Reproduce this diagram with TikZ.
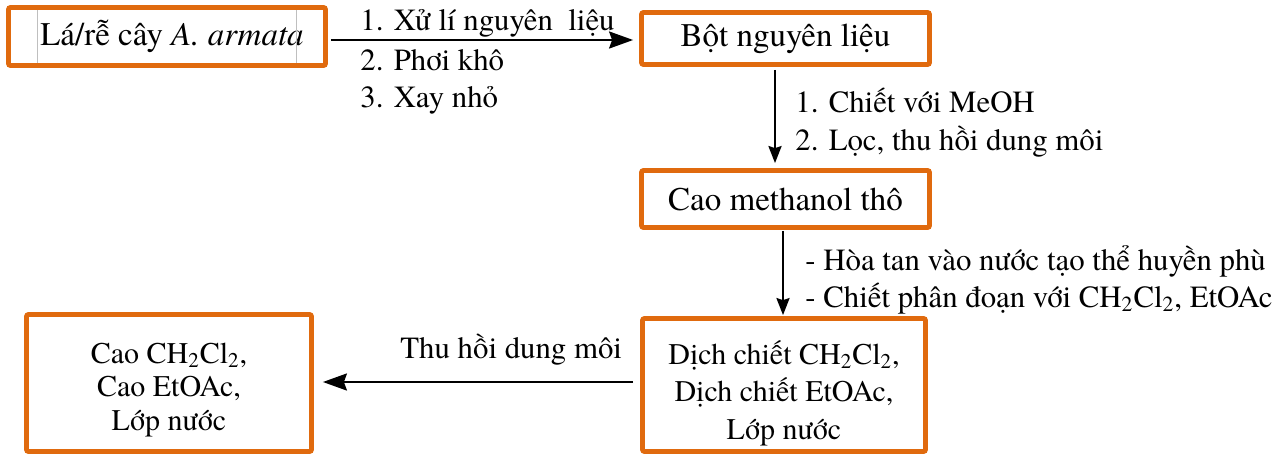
\documentclass[tikz,border=0pt]{standalone}
\usepackage{fontspec}
\setmainfont{TeX Gyre Termes}
\usetikzlibrary{arrows.meta}
\definecolor{boxorange}{RGB}{224,106,14}
\begin{document}
\begin{tikzpicture}[x=0.5pt,y=-0.5pt,
  box/.style={draw=boxorange,line width=2.4pt,rounded corners=1pt,fill=white,inner sep=0pt,align=center,font=\fontsize{16.5}{18.75}\selectfont},
  boxtext/.style={inner sep=0pt,align=center},
  lbl/.style={inner sep=0pt,font=\fontsize{15.4}{18}\selectfont},
  harr/.style={line width=1.2pt,-{Stealth[length=12pt,width=8.5pt,inset=1.5pt]}},
  varr/.style={line width=1.2pt,-{Stealth[length=8.5pt,width=6.5pt,inset=1pt]}}]
\useasboundingbox (0,0) rectangle (1284,455);
% boxes
\node[box,minimum width=158.5pt,minimum height=29pt] (b1) at (167,36.5) {\hspace{5pt}Lá/rễ cây \textit{A. armata}};
\node[box,minimum width=144pt,minimum height=26pt] (b2) at (785.5,38.5) {Bột nguyên liệu};
\node[box,minimum width=144pt,minimum height=28.5pt] (b3) at (785.5,199) {Cao methanol thô};
\node[box,minimum width=141.5pt,minimum height=66.5pt] (b4) at (784,385) {};
\node[box,minimum width=142.5pt,minimum height=68.5pt] (b5) at (169,383) {};
\node[boxtext,font=\fontsize{15}{18.75}\selectfont,yshift=-4pt] (t4) at (b4.center) {Dịch chiết CH\textsubscript{2}Cl\textsubscript{2},\\Dịch chiết EtOAc,\\Lớp nước};
\node[boxtext,font=\fontsize{15}{16.75}\selectfont,yshift=-3.5pt] (t5) at (b5.center) {Cao CH\textsubscript{2}Cl\textsubscript{2},\\Cao EtOAc,\\Lớp nước};
% faint text-frame lines in first box
\draw[black!25,line width=0.4pt] (37,10) -- (37,63) (296,10) -- (296,63);
% arrows
\draw[harr,shorten <=1.5pt,shorten >=3pt] (b1.east |- 0,40) -- (b2.west |- 0,40);
\draw[varr,shorten <=1.5pt,shorten >=2.5pt] (b2.south -| 775,0) -- (b3.north -| 775,0);
\draw[varr,shorten <=0.5pt,shorten >=0.5pt] (b3.south -| 783,0) -- (b4.north -| 783,0);
\draw[harr,shorten <=3.5pt,shorten >=4.5pt] (b4.west |- 0,382) -- (b5.east |- 0,382);
% labels
\node[lbl,anchor=base west] (l1a) at (360,31) {1. Xử lí nguyên\ \ liệu};
\node[lbl,anchor=base west] (l1b) at (360,70) {2. Phơi khô};
\node[lbl,anchor=base west] (l1c) at (360,107) {3. Xay nhỏ};
\node[lbl,anchor=base west] (l2a) at (795,112) {1. Chiết với MeOH};
\node[lbl,anchor=base west] (l2b) at (795,150) {2. Lọc, thu hồi dung môi};
\node[lbl,anchor=base west] (l3a) at (805,270) {- Hòa tan vào nước tạo thể huyền phù};
\node[lbl,anchor=base west] (l3b) at (805,307) {- Chiết phân đoạn với CH\textsubscript{2}Cl\textsubscript{2}, EtOAc};
\node[lbl,anchor=base west] (l4) at (400,358) {Thu hồi dung môi};
\end{tikzpicture}
\end{document}
